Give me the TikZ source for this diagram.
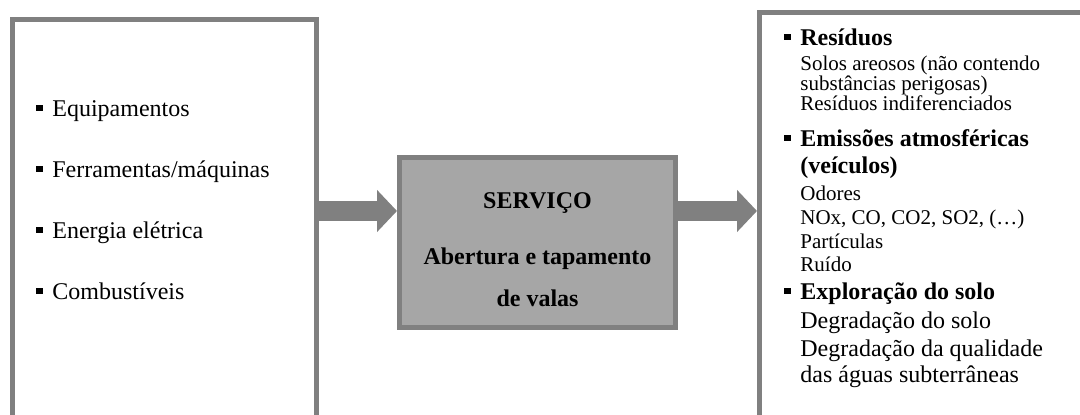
\documentclass[tikz,border=0pt]{standalone}
\usepackage{fontspec}
\setmainfont{Liberation Serif}
\usetikzlibrary{arrows.meta}
\definecolor{boxgray}{HTML}{808080}
\definecolor{servfill}{HTML}{A6A6A6}
\newcommand{\sqbullet}{\makebox[8pt][l]{\rule[3pt]{3.2pt}{3.2pt}}}
\tikzset{frame/.style = {draw = boxgray,line width = 2.5pt,inner sep = 0pt},
item/.style = {anchor = base west,inner sep = 0pt,font = \fontsize{12}{14}\selectfont},
sub/.style = {anchor = base west,inner sep = 0pt,font = \fontsize{10.5}{12}\selectfont},
flow/.style = {-{Triangle[length = 10pt,width = 20.5pt]},line width = 10pt,draw = boxgray}}

\begin{document}
\begin{tikzpicture}[x = 0.5pt,y = -0.5pt]
\useasboundingbox (0,0) rectangle (1080,415);

\node[frame,minimum width = 152.25pt,minimum height = 210.25pt] (inbox) at (164.25,229.75) {};
\node[frame,fill = servfill,minimum width = 138pt,minimum height = 85pt] (serv) at (537.5,242.5) {};
\node[frame,minimum width = 170.25pt,minimum height = 213.75pt] (outbox) at (929.75,226.25) {};

\coordinate (ay) at (0,211);
\draw[flow] (inbox.east |- ay) -- (serv.west |- ay);
\draw[flow] (serv.east |- ay) -- (outbox.west |- ay);

% inputs
\node[item] (in1) at (36,117) {\sqbullet Equipamentos};
\node[item] (in2) at (36,178) {\sqbullet Ferramentas/máquinas};
\node[item] (in3) at (36,239) {\sqbullet Energia elétrica};
\node[item] (in4) at (36,300) {\sqbullet Combustíveis};

% service
\node[item,anchor = base,font = \fontsize{12}{14}\selectfont\bfseries] (s1) at (537.5,209) {SERVIÇO};
\node[item,anchor = base,font = \fontsize{12}{14}\selectfont\bfseries] (s2) at (537.5,265) {Abertura e tapamento};
\node[item,anchor = base,font = \fontsize{12}{14}\selectfont\bfseries] (s3) at (537.5,307) {de valas};

% outputs
\node[item] (o1) at (784,46) {\sqbullet\textbf{Resíduos}};
\node[sub] (o2) at (800,71) {Solos areosos (não contendo};
\node[sub] (o3) at (800,91) {substâncias perigosas)};
\node[sub] (o4) at (800,111) {Resíduos indiferenciados};
\node[item] (o5) at (784,147) {\sqbullet\textbf{Emissões atmosféricas}};
\node[item] (o6) at (800,174) {\textbf{(veículos)}};
\node[sub] (o7) at (800,201) {Odores};
\node[sub] (o8) at (800,225) {NOx, CO, CO2, SO2, (…)};
\node[sub] (o9) at (800,249) {Partículas};
\node[sub] (o10) at (800,272) {Ruído};
\node[item] (o11) at (784,300) {\sqbullet\textbf{Exploração do solo}};
\node[item] (o12) at (800,329) {Degradação do solo};
\node[item] (o13) at (800,357) {Degradação da qualidade};
\node[item] (o14) at (800,383) {das águas subterrâneas};
\end{tikzpicture}
\end{document}
